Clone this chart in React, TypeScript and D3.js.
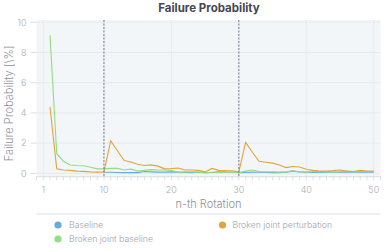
import React from "react";
import * as d3 from "d3";

const rotationsFull = d3.range(2, 51);
const rotationsBaseline = d3.range(10, 51);

const baseline = [
  0.07, 0.07, 0.06, 0.05, 0.06, 0.05, 0.12, 0.1, 0.08, 0.08,
  0.1, 0.08, 0.06, 0.05, 0.07, 0.05, 0.06, 0.1, 0.08, 0.07,
  0.05, 0.06, 0.08, 0.07, 0.06, 0.05, 0.05, 0.08, 0.15, 0.1,
  0.07, 0.06, 0.06, 0.08, 0.07, 0.08, 0.1, 0.07, 0.08, 0.08, 0.07,
];

const brokenBaseline = [
  9.15, 1.3, 0.8, 0.55, 0.52, 0.5, 0.4, 0.3, 0.3,
  0.33, 0.33, 0.22, 0.28, 0.15, 0.2, 0.25, 0.22, 0.22, 0.2,
  0.07, 0.1, 0.1, 0.08, 0.05, 0.07, 0.07, 0.1, 0.08, 0.05,
  0.15, 0.22, 0.12, 0.1, 0.1, 0.08, 0.1, 0.17, 0.1, 0.1,
  0.12, 0.1, 0.12, 0.1, 0.12, 0.15, 0.1, 0.12, 0.12, 0.1,
];

const brokenPerturbation = [
  4.4, 0.3, 0.22, 0.2, 0.15, 0.13, 0.1, 0.08, 0.1,
  2.15, 1.5, 0.85, 0.75, 0.6, 0.52, 0.56, 0.48, 0.3, 0.32,
  0.35, 0.22, 0.22, 0.2, 0.1, 0.33, 0.2, 0.18, 0.17, 0.1,
  2.05, 1.4, 0.8, 0.74, 0.68, 0.55, 0.38, 0.45, 0.42, 0.27,
  0.2, 0.15, 0.16, 0.18, 0.22, 0.15, 0.12, 0.2, 0.16, 0.15,
];

const xTicks = [1, 10, 20, 30, 40, 50];
const yTicks = [0, 2, 4, 6, 8, 10];
const markers = [10, 30];

const seriesNames = ["Baseline", "Broken joint perturbation", "Broken joint baseline"];
const colors = ["#65abe3", "#e3a33c", "#92dc82"];

export default function App() {
  const W = 390, H = 250;
  const left = 36.5, right = 380.5, top = 20, bottom = 176.7;
  const x = d3.scaleLinear().domain([0, 51]).range([left, right]);
  const y = d3.scaleLinear().domain([-0.22, 10.15]).range([bottom, top]);
  const line = d3.line<[number, number]>().x((d) => x(d[0])).y((d) => y(d[1]));

  const series = [
    { xs: rotationsBaseline, ys: baseline, color: colors[0] },
    { xs: rotationsFull, ys: brokenBaseline, color: colors[2] },
    { xs: rotationsFull, ys: brokenPerturbation, color: colors[1] },
  ];

  const font = "Inter, 'Noto Sans', sans-serif";
  const minor = d3.range(0, 52);

  return (
    <svg width={W} height={H} style={{ position: "absolute", left: 0, top: 0, fontFamily: font }}>
      <rect x={0} y={0} width={W} height={H} fill="#fff" />
      <text x={209} y={11.5} textAnchor="middle" fontSize={11.5} fontWeight={700} fill="#46474f">
        Failure Probability
      </text>
      <rect x={left} y={top} width={right - left} height={bottom - top} fill="#f3f6f8" />
      {yTicks.map((t) => (
        <g key={"y" + t}>
          <line x1={left} x2={right} y1={y(t)} y2={y(t)} stroke="#e3e7ea" strokeWidth={0.8} />
          <line x1={left - 6} x2={left} y1={y(t)} y2={y(t)} stroke="#d2d5dc" strokeWidth={0.8} />
          <text x={left - 10} y={y(t) + 3.3} textAnchor="end" fontSize={9} fontWeight={300} fill="#a9abb4">{t}</text>
        </g>
      ))}
      {xTicks.map((t) => (
        <g key={"x" + t}>
          <line x1={x(t)} x2={x(t)} y1={top} y2={bottom} stroke="#e3e7ea" strokeWidth={0.8} />
          <text x={x(t)} y={193} textAnchor="middle" fontSize={9} fontWeight={300} fill="#a9abb4">{t}</text>
        </g>
      ))}
      <line x1={left} x2={right} y1={bottom} y2={bottom} stroke="#d2d5dc" strokeWidth={0.8} />
      {minor.map((t) => (
        <line key={"m" + t} x1={x(t)} x2={x(t)} y1={bottom} y2={bottom + 3.5} stroke="#d2d5dc" strokeWidth={0.8} />
      ))}
      {series.map((s, i) => (
        <path
          key={i}
          d={line(s.xs.map((v, j) => [v, s.ys[j]] as [number, number])) || ""}
          fill="none"
          stroke={s.color}
          strokeWidth={1.1}
        />
      ))}
      {markers.map((m) => (
        <line key={"k" + m} x1={x(m)} x2={x(m)} y1={top} y2={bottom} stroke="#6b6e88" strokeWidth={0.9} strokeDasharray="2,1.5" />
      ))}
      <text x={208.5} y={208} textAnchor="middle" fontSize={11} fontWeight={300} fill="#8e909a">n-th Rotation</text>
      <text transform={`translate(12.5,${(top + bottom) / 2 + 5}) rotate(-90)`} textAnchor="middle" fontSize={11} fontWeight={300} fill="#8e909a">
        Failure Probability [\%]
      </text>
      <line x1={left} x2={right} y1={214} y2={214} stroke="#d4d4e2" strokeWidth={0.8} />
      <circle cx={58} cy={225} r={3.6} fill={colors[0]} />
      <text x={69} y={228.2} fontSize={8.7} fontWeight={300} fill="#a0a2ab">{seriesNames[0]}</text>
      <circle cx={222.5} cy={225} r={3.6} fill={colors[1]} />
      <text x={232.5} y={228.2} fontSize={8.7} fontWeight={300} fill="#a0a2ab">{seriesNames[1]}</text>
      <circle cx={58} cy={239} r={3.6} fill={colors[2]} />
      <text x={69} y={242.2} fontSize={8.7} fontWeight={300} fill="#a0a2ab">{seriesNames[2]}</text>
    </svg>
  );
}
